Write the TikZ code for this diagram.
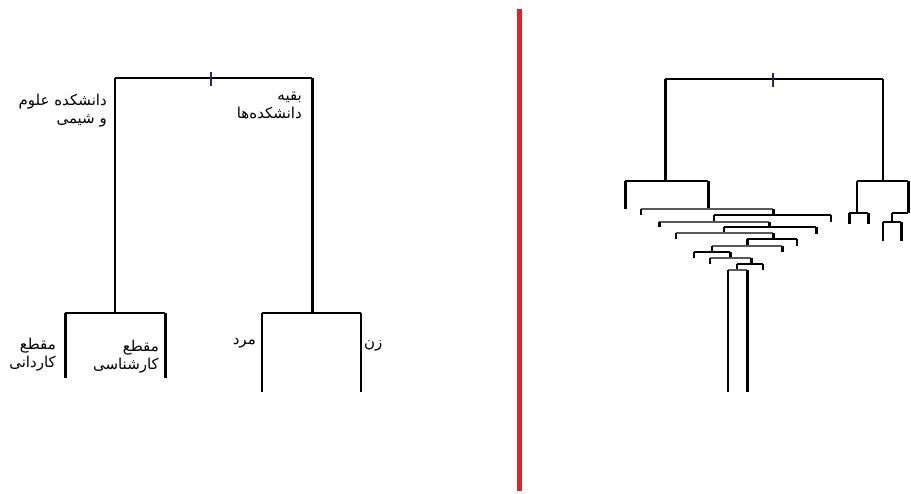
\documentclass[tikz,border=0pt]{standalone}
\usepackage{fontspec}
\newfontfamily\arabicfont[Script=Arabic]{DejaVu Sans}
\TeXXeTstate=1
\definecolor{divred}{RGB}{228,32,42}
\definecolor{tickc}{RGB}{45,35,95}
\tikzset{bar/.style={line width=1.1pt,draw=black},barg/.style={line width=1.1pt,draw=black!65},
leg/.style={line width=1.1pt},legb/.style={line width=3pt},
tickmark/.style={line width=2.5pt,draw=tickc},
lbl/.style={font=\arabicfont\fontsize{15}{17.5}\selectfont,align=right,inner sep=0pt}}
% one fork: bar style, y, left x, right x, left end, right end, left leg, right leg
\newcommand{\fork}[8]{\draw[#1] (#3,#2) -- (#4,#2);\draw[#7] (#3,#2) -- (#3,#5);\draw[#8] (#4,#2) -- (#4,#6);}
\begin{document}
\begin{tikzpicture}[x=1pt,y=-1pt]
\useasboundingbox[fill=white] (0,0) rectangle (911,494);
% left tree
\fork{bar}{78}{115}{312}{313}{313}{leg}{legb}
\draw[tickmark] (211,72) -- (211,86);
\fork{bar}{313}{65}{165}{378}{378}{legb}{legb}
\fork{bar}{313}{262}{361}{392}{392}{leg}{leg}
\node[lbl,anchor=north east] (sci) at (107,94) {\beginR دانشکده علوم\endR\\\beginR و شیمی\endR};
\node[lbl,anchor=north east] (rest) at (302,92) {\beginR بقیه\endR\\\beginR دانشکده‌ها\endR};
\node[lbl,anchor=north east] (assoc) at (56,338) {\beginR مقطع\endR\\\beginR کاردانی\endR};
\node[lbl,anchor=north east] (bach) at (159,340) {\beginR مقطع\endR\\\beginR کارشناسی\endR};
\node[lbl,anchor=north east] (man) at (256,338) {\beginR مرد\endR};
\node[lbl,anchor=north west] (woman) at (364,340) {\beginR زن\endR};
% divider
\draw[divred,line width=5pt] (519,9) -- (519,491);
% right tree
\fork{bar}{79}{665}{883}{181}{181}{legb}{leg}
\draw[tickmark] (773,73) -- (773,87);
\fork{bar}{181}{625}{708}{209}{209}{legb}{legb}
\fork{barg}{209}{641}{773}{215}{215}{leg}{legb}
\fork{bar}{215}{714}{831}{222}{222}{leg}{leg}
\fork{barg}{222}{659}{769}{227}{227}{legb}{legb}
\fork{bar}{227}{724}{816}{233}{234}{leg}{legb}
\fork{barg}{233}{676}{773}{239}{239}{leg}{legb}
\fork{bar}{239}{747}{797}{246}{246}{legb}{leg}
\fork{barg}{246}{712}{782}{252}{252}{leg}{legb}
\fork{bar}{252}{694}{730}{258}{258}{leg}{legb}
\fork{barg}{258}{710}{751}{264}{264}{leg}{legb}
\fork{bar}{264}{737}{763}{270}{270}{leg}{leg}
\fork{barg}{270}{728}{747}{392}{392}{leg}{legb}
\fork{bar}{181}{857}{908}{213}{213}{leg}{legb}
\fork{bar}{213}{849}{868}{224}{224}{legb}{legb}
\fork{bar}{213}{892}{908}{222}{213}{leg}{legb}
\fork{bar}{222}{883}{901}{241}{241}{leg}{legb}
\end{tikzpicture}
\end{document}
